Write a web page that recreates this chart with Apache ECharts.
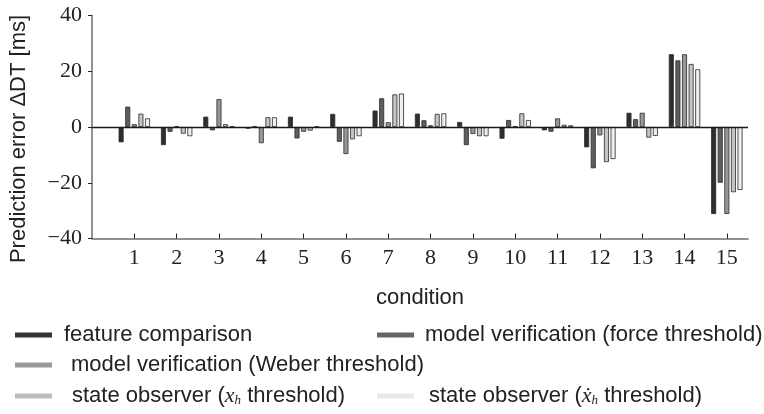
<!DOCTYPE html>
<html>
<head>
<meta charset="utf-8">
<script src="https://cdn.jsdelivr.net/npm/echarts@6/dist/echarts.min.js"></script>
<style>
  html, body { margin: 0; padding: 0; background: #fff; }
  #chart { width: 764px; height: 414px; }
</style>
</head>
<body>
<div id="chart"></div>
<script>
// conditions 1..15 on the x axis
var conditions = [1, 2, 3, 4, 5, 6, 7, 8, 9, 10, 11, 12, 13, 14, 15];
var yTicks = [-40, -20, 0, 20, 40];

// prediction error ΔDT [ms] per condition
var featureComparison = [-5.5, -6.5, 3.7, -0.6, 3.7, 4.7, 5.9, 4.8, 1.8, -4.2, -1.2, -7.3, 5.1, 26.1, -31.2];
var modelForce        = [7.3, -1.7, -1.2, 0.3, -4.1, -5.3, 10.3, 2.4, -6.5, 2.5, -1.7, -14.8, 2.8, 23.9, -20.0];
var modelWeber        = [1.0, 0.3, 10.0, -5.8, -1.7, -9.7, 1.7, 0.6, -2.5, 0.3, 3.1, -3.0, 5.1, 26.1, -31.2];
var observerX         = [4.8, -2.4, 1.0, 3.5, -1.3, -4.4, 11.7, 4.7, -3.3, 4.9, 0.8, -12.6, -3.8, 22.6, -23.4];
var observerXdot      = [3.1, -3.3, 0.3, 3.5, 0.2, -3.3, 12.0, 4.9, -3.3, 2.5, 0.6, -11.5, -3.2, 20.7, -22.6];

var seriesNames = [
	'feature comparison',
	'model verification (force threshold)',
	'model verification (Weber threshold)',
	'state observer (x_h threshold)',
	'state observer (xdot_h threshold)'
];
var seriesColors = ['#2e2e2e', '#5e5e5e', '#979797', '#c4c4c4', '#efefef'];
var legendColors = ['#333333', '#666666', '#999999', '#bdbdbd', '#e9e9e9'];
var allValues = [featureComparison, modelForce, modelWeber, observerX, observerXdot];

var sans = '"Liberation Sans", Arial, sans-serif';
var serif = '"Liberation Serif", "Times New Roman", serif';

function pairs(values) {
	return values.map(function (v, i) { return [conditions[i], v]; });
}

var series = allValues.map(function (values, k) {
	var s = {
		name: seriesNames[k],
		type: 'bar',
		barWidth: 5,
		barGap: '32%',
		itemStyle: {
			color: seriesColors[k],
			borderColor: '#2a2a2a',
			borderWidth: 0.8
		},
		data: pairs(values)
	};
	if (k === 0) {
		// the black zero line across the plot
		s.markLine = {
			silent: true,
			symbol: 'none',
			label: { show: false },
			lineStyle: { color: '#1a1a1a', width: 1.4, type: 'solid' },
			data: [{ yAxis: 0 }]
		};
	}
	return s;
});

// math-style labels for the observer entries
var rich = {
	n: { fontFamily: sans, fontSize: 22, color: '#222' },
	i: { fontFamily: serif, fontStyle: 'italic', fontSize: 22, color: '#222' },
	s: { fontFamily: serif, fontStyle: 'italic', fontSize: 13, color: '#222', padding: [10, 0, 0, 0] }
};
function legendText(name) {
	if (name === seriesNames[3]) {
		return '{n|state observer (}{i|x}{s|h}{n| threshold)}';
	}
	if (name === seriesNames[4]) {
		return '{n|state observer (}{i|\u1E8B}{s|h}{n| threshold)}';
	}
	return '{n|' + name + '}';
}

var legendPos = [
	{ left: 10, top: 319, pad: 7 },
	{ left: 372, top: 319, pad: 6 },
	{ left: 10, top: 349, pad: 14 },
	{ left: 10, top: 380, pad: 15 },
	{ left: 372, top: 380, pad: 10 }
];
var legends = seriesNames.map(function (name, k) {
	return {
		left: legendPos[k].left,
		top: legendPos[k].top,
		data: [{ name: name, itemStyle: { color: legendColors[k], borderWidth: 0 } }],
		icon: 'rect',
		itemWidth: 37,
		itemHeight: 5,
		itemGap: 0,
		selectedMode: false,
		formatter: legendText,
		textStyle: { rich: rich, padding: [0, 0, 0, legendPos[k].pad] }
	};
});

var chart = echarts.init(document.getElementById('chart'), null, { renderer: 'canvas' });
chart.setOption({
	animation: false,
	backgroundColor: '#ffffff',
	legend: legends,
	grid: {
		left: 90,
		right: 16,
		top: 15.5,
		bottom: 175.5
	},
	xAxis: {
		type: 'value',
		min: 0,
		max: 15.5,
		interval: 1,
		name: 'condition',
		nameLocation: 'middle',
		nameGap: 48,
		nameTextStyle: { fontFamily: sans, fontSize: 22, color: '#222' },
		splitLine: { show: false },
		axisLine: { onZero: false, lineStyle: { color: '#6e6e6e', width: 1.5 } },
		axisTick: {
			inside: true,
			length: 5,
			customValues: conditions,
			lineStyle: { color: '#222', width: 1 }
		},
		axisLabel: {
			customValues: conditions,
			margin: 9,
			fontFamily: serif,
			fontSize: 22,
			color: '#222',
			formatter: function (v) {
				return conditions.indexOf(v) >= 0 ? String(v) : '';
			}
		}
	},
	yAxis: {
		type: 'value',
		min: -40,
		max: 40,
		interval: 20,
		name: 'Prediction error \u0394DT [ms]',
		nameLocation: 'middle',
		nameGap: 62,
		nameTextStyle: { fontFamily: sans, fontSize: 22, color: '#222', padding: [0, 24, 0, 0] },
		splitLine: { show: false },
		axisLine: { show: true, lineStyle: { color: '#6e6e6e', width: 1.5 } },
		axisTick: { show: true, length: 4, lineStyle: { color: '#222', width: 1 } },
		axisLabel: {
			margin: 10,
			fontFamily: serif,
			fontSize: 22,
			color: '#222',
			formatter: function (v) {
				return yTicks.indexOf(v) >= 0 ? String(v).replace('-', '\u2212') : '';
			}
		}
	},
	series: series
});
</script>
</body>
</html>
